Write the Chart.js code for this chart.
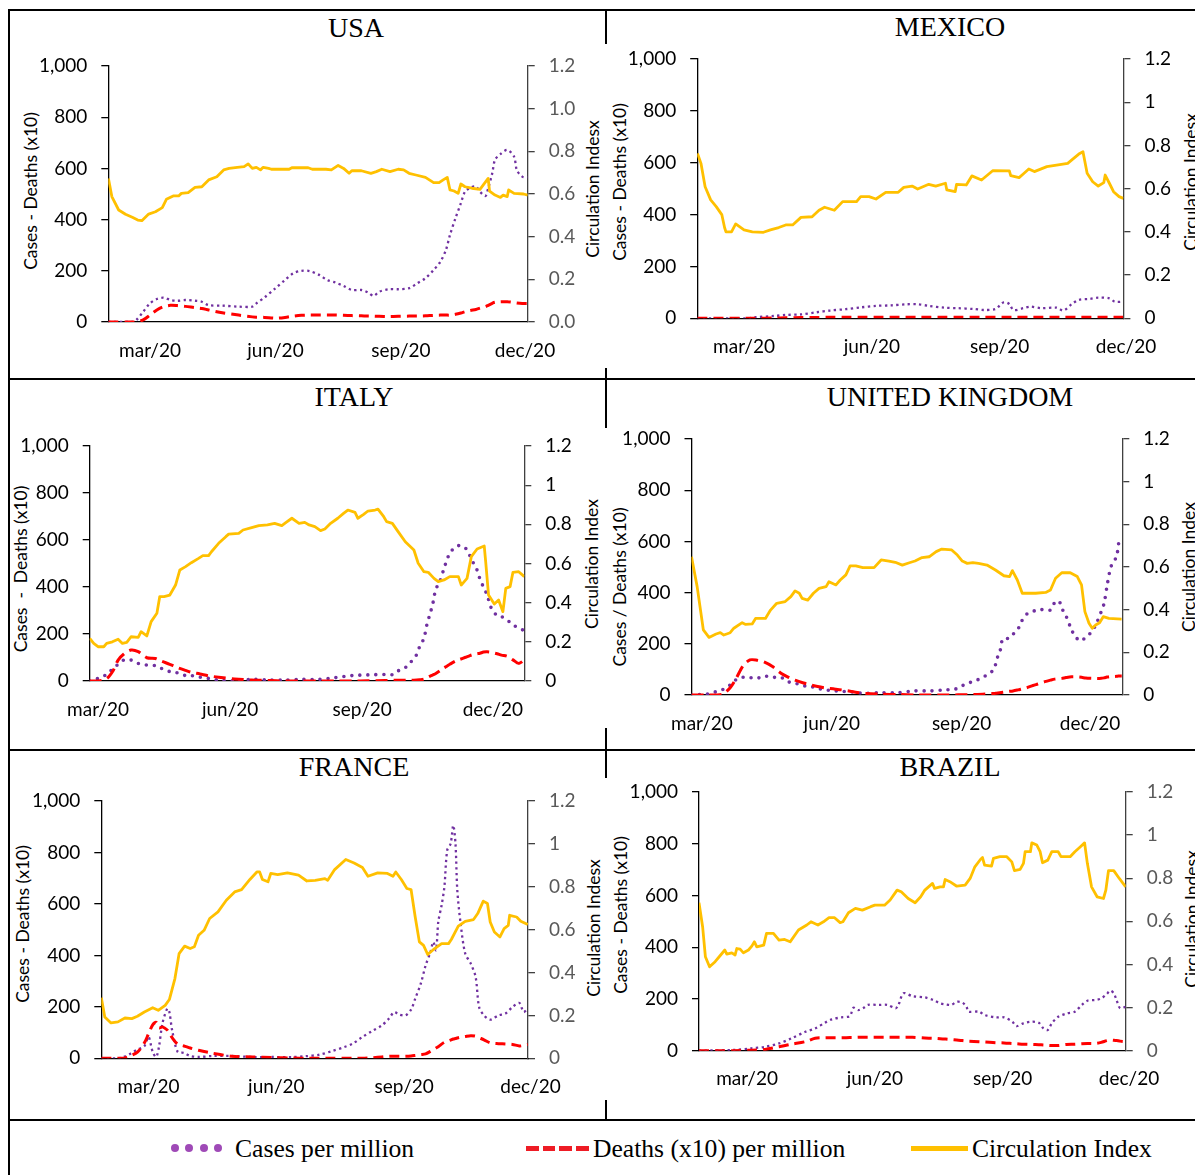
<!DOCTYPE html>
<html><head><meta charset="utf-8">
<script src="https://cdn.jsdelivr.net/npm/chart.js@4.4.1/dist/chart.umd.min.js"></script>
<style>
html,body{margin:0;padding:0;background:#fff;}
body{width:1195px;height:1175px;position:relative;overflow:hidden;}
.ln{position:absolute;background:#000;}
.ttl{position:absolute;font-family:'Liberation Serif','Times New Roman',serif;font-size:28px;color:#000;transform:translate(-50%,-50%);white-space:nowrap;line-height:1;}
.axt{position:absolute;font-family:Lato,sans-serif;font-size:17.5px;color:#000;white-space:pre;line-height:1;transform:translate(-50%,-50%) rotate(-90deg);}
canvas{position:absolute;}
.leg{position:absolute;font-family:'Liberation Serif','Times New Roman',serif;font-size:25.6px;color:#000;white-space:nowrap;line-height:1;}
.mk{position:absolute;}
</style></head><body>
<script>
// x values are days of 2020 counted from 1 January (= 0); 60 = 1 Mar, 152 = 1 Jun, 244 = 1 Sep, 335 = 1 Dec
const tickDays = [60, 152, 244, 335];
const tickLabels = ['mar/20', 'jun/20', 'sep/20', 'dec/20'];

// ---------- USA ----------
const usaCircDays = [29.5,32,37,42,47,51,54,59,64,69,72,77,81,83,88,93,98,103,109,114,118,124,129,132,135,138,141,143,147,149,162,164,176,179,189,193,198,202,206,208,215,222,226,230,236,242,246,250,255,262,268,272,275,278,280,283,286,288,291,296,302,308,309,313,317,319,322,323,327,334,337];
const usaCirc = [0.673,0.588,0.525,0.505,0.491,0.478,0.475,0.506,0.517,0.536,0.575,0.591,0.591,0.603,0.606,0.631,0.634,0.666,0.681,0.713,0.72,0.725,0.728,0.741,0.72,0.725,0.713,0.725,0.72,0.716,0.716,0.723,0.723,0.716,0.716,0.713,0.734,0.72,0.697,0.709,0.709,0.697,0.705,0.716,0.705,0.716,0.713,0.697,0.689,0.678,0.653,0.653,0.666,0.678,0.619,0.614,0.603,0.647,0.634,0.627,0.622,0.673,0.614,0.595,0.584,0.595,0.588,0.619,0.603,0.60,0.595];
const usaDays = [29.5,47,50,55,60,65,70,75,80,86,93,98,103,113,125,135,138,144,152,159,165,171,177,184,190,196,202,208,215,220,224,228,235,242,250,256,262,268,273,277,280,284,288,291,295,299,302,306,308,311,313,317,322,327,329,333,337];
const usaCases = [0,0,8,40,73,90,95,86,83,86,83,79,66,64,60,60,73,96,132,164,190,200,199,184,164,154,141,125,125,115,102,118,128,128,132,151,171,203,236,281,340,405,464,509,525,529,509,492,522,581,633,656,672,646,594,568,565];
const usaDeaths = [0,0,0,8,27,47,60,65,64,61,56,53,47,36,27,20,19,18,15,18,23,26,27,27,27,27,26,25,24,23,23,22,21,22,23,23,24,26,27,27,27,30,35,40,45,49,54,60,65,73,77,79,79,76,74,72,72];

// ---------- MEXICO ----------
const mexCircDays = [26.5,29,32,36,40,44,46,47,51,54,60,66,74,79,85,90,95,101,109,114,118,125,131,141,144,150,155,162,171,175,181,185,193,198,205,206,212,213,220,224,231,239,251,252,258,261,265,269,278,285,293,296,301,304,307,311,315,319,320,323,326,330,333];
const mexCirc = [0.763,0.717,0.609,0.548,0.517,0.48,0.42,0.40,0.40,0.437,0.409,0.40,0.398,0.409,0.42,0.432,0.432,0.467,0.47,0.50,0.514,0.50,0.54,0.54,0.563,0.563,0.552,0.583,0.583,0.606,0.612,0.598,0.62,0.612,0.625,0.594,0.586,0.62,0.617,0.659,0.64,0.683,0.682,0.66,0.651,0.668,0.691,0.679,0.702,0.709,0.717,0.733,0.76,0.771,0.671,0.632,0.612,0.628,0.663,0.625,0.586,0.563,0.555];
const mexDays = [26.5,63,68,82,90,101,112,122,133,144,155,166,177,185,193,204,214,225,233,241,247,251,254,261,266,274,285,290,296,301,309,315,323,327,333];
const mexCases = [0,0,4,9,13,15,23,30,35,42,48,50,54,54,48,41,39,36,32,36,62,55,32,39,45,39,41,30,55,71,75,80,77,64,64];
const mexDeaths = [0,0,0,1,2,3,3,4,4,4,4,4,4,4,4,4,4,4,4,4,4,4,4,4,4,4,4,4,4,4,4,4,4,4,4];

// ---------- ITALY ----------
const itaCircDays = [54.2,57,60,64,66,70,74,77,80,83,88,90,94,97,101,103,106,110,114,117,121,125,130,133,137,139,144,149,151,158,161,167,172,178,183,188,191,195,200,204,207,211,215,218,222,227,231,234,239,241,245,248,253,255,259,261,265,269,274,280,283,287,290,294,297,301,305,311,313,317,320,324,329,330,332,336,339,342,344,347,349,353,356.9];
const itaCirc = [0.218,0.192,0.175,0.175,0.192,0.20,0.213,0.192,0.197,0.226,0.223,0.252,0.23,0.303,0.346,0.431,0.431,0.439,0.49,0.567,0.584,0.604,0.626,0.64,0.64,0.66,0.703,0.737,0.75,0.754,0.771,0.783,0.793,0.797,0.805,0.793,0.81,0.831,0.805,0.81,0.797,0.788,0.768,0.776,0.805,0.831,0.856,0.873,0.861,0.831,0.851,0.868,0.873,0.878,0.839,0.814,0.805,0.763,0.711,0.669,0.601,0.558,0.555,0.524,0.507,0.516,0.533,0.533,0.49,0.524,0.635,0.674,0.689,0.609,0.439,0.393,0.414,0.354,0.473,0.482,0.555,0.558,0.533];
const itaDays = [54.2,60,66,70.6,74,78,83,88,94,100,104,110,115,121,125,131,137,144,155,167,179,190,202,214,225,237,248,260,266,270,275,278.5,282,284,287,289,291,292.5,294,295,298,301,303,305,309,312,316,319,321.5,324,326,328.5,331,334,338,341,345,349,353,356.9];
const itaCases = [0,11,28,54,71,89,89,75,68,65,54,40,35,23,23,16,11,4,1,7,4,4,7,7,14,23,26,28,28,47,61,85,113,146,182,238,281,313,352,387,423,479,515,543,572,576,565,533,501,472,434,399,366,309,278,274,260,238,227,213];
const itaDeaths = [0,0,10,45,89,115,132,125,99,96,85,71,58,45,37,30,22,16,9,4,2,0,0,0,0,0,1,2,3,3,3,3,4,5,8,14,20,24,28,31,43,56,63,71,85,92,101,108,113,116,118,123,124,122,116,110,105,90,75,89];

// ---------- UNITED KINGDOM ----------
const ukCircDays = [52.6,56.6,61,65,70,73,75.5,80,82.6,88.5,91,95.6,98,101.5,105,108.6,113,119,123,126,129,131,135,139,143,148,150,155,158,162,165,169,174,182,187,192.5,197,202,207,211,216,221,226,230,237,241,244.5,248,252,256,262,268,274,278,280,283.5,287,296.5,303.6,307,310.6,315,321,326,329,331.4,334.3,336.6,339,341.8,344.4,348.4,357.4];
const ukCirc = [0.648,0.508,0.305,0.27,0.286,0.292,0.281,0.292,0.313,0.339,0.331,0.333,0.359,0.359,0.359,0.398,0.43,0.438,0.461,0.488,0.477,0.453,0.445,0.477,0.50,0.508,0.531,0.516,0.539,0.563,0.605,0.605,0.597,0.597,0.633,0.628,0.622,0.609,0.620,0.628,0.644,0.648,0.672,0.684,0.68,0.656,0.628,0.617,0.62,0.617,0.609,0.586,0.559,0.555,0.583,0.539,0.477,0.477,0.481,0.492,0.547,0.573,0.573,0.555,0.516,0.391,0.336,0.313,0.328,0.339,0.367,0.359,0.356];
const ukDays = [52.6,64,70,75,80,84,89,94,99,104,110,116,121,126,132,136,142,147,153,159,165,170,176,187,199,211,222,233,239,244,248.5,254,259,264,267.4,268.6,271,273.3,277,280.4,284,286.3,290,294.6,298,303,307,310,313,315,318,322,325,329,332,336,339,343,345,347,349,351,354,355,357.5];
const ukCases = [0,4,13,22,39,59,69,68,65,74,69,69,52,46,36,35,26,20,17,14,13,9,7,9,9,16,16,20,22,35,46,56,69,85,104,137,165,221,221,237,258,286,315,326,335,332,332,361,367,339,309,254,225,211,228,245,273,326,358,423,482,517,540,586,618];
const ukDeaths = [0,0,0,4,28,62,113,137,136,129,111,85,70,58,47,41,33,28,24,20,15,10,6,3,2,0,0,0,0,1,1,2,3,5,6,7,9,11,14,16,20,23,28,37,43,52,58,62,64,65,68,71,71,69,66,65,65,65,67,70,72,72,73,74,74];

// ---------- FRANCE ----------
const fraCircDays = [26,28.5,33,38,43,48,52,57,63,67,72,75,79,82,86,90,93,96,100,104,110,116,122,127,133,138,140,142,146,148,153,160,168,174,180,187,189,194,202,208,214,218,225,232,236,238,242,246,249,252,255,258,261,266,271,276,278,283,288,294,297,301,304,306,309,313,316,319,320,325,328,333];
const fraCirc = [0.283,0.193,0.165,0.17,0.188,0.185,0.196,0.216,0.236,0.224,0.247,0.274,0.372,0.488,0.523,0.512,0.52,0.574,0.597,0.652,0.683,0.737,0.776,0.787,0.834,0.869,0.869,0.834,0.823,0.862,0.857,0.865,0.854,0.827,0.83,0.838,0.83,0.88,0.927,0.911,0.89,0.849,0.865,0.862,0.849,0.869,0.834,0.792,0.787,0.659,0.543,0.527,0.484,0.512,0.535,0.535,0.554,0.616,0.639,0.647,0.675,0.733,0.722,0.636,0.589,0.566,0.605,0.62,0.667,0.659,0.639,0.624];
const fraDays = [26,38,42,47,52,57,60,63,65.5,67.5,70,73.5,75,77,81,85.5,90,96,106,120,135,149,164,173,183,192,201,207,214,221,228,233,237,240,245,249,252,256,259.5,263,265,267,268.6,271,273,275,277.5,279.4,281,282.3,284.7,288,292,295.5,298,301.5,306,312,317,322,327,330,333];
const fraCases = [0,0,5,18,34,47,83,25,5,44,135,193,180,109,25,21,9,5,9,9,5,5,5,8,14,28,44,57,83,106,128,154,180,171,167,189,232,290,361,413,452,420,530,595,666,808,834,905,834,653,523,407,368,316,199,167,150,167,174,199,215,180,193];
const fraDeaths = [0,0,0,10,24,60,95,130,140,118,122,110,98,80,55,48,40,31,20,8,5,3,1,0,0,0,0,0,0,2,5,8,8,8,8,9,11,14,17,27,33,40,45,55,62,66,71,75,77,79,82,85,88,86,80,72,60,57,56,54,48,50,54];

// ---------- BRAZIL ----------
const braCircDays = [25.4,28,30,33,37,41,44,45.4,49,51.4,52.6,55,57.4,61,63.4,65.3,67,72,74,79,83,87,91,97,103,106,111,115,119,123,127,129,133,138,143,149,152,159,163,168,171,176,181,185,188,193.5,195,199,201.4,202.6,206,211,217,220.6,224,228,229.5,231,236,237.4,242,247,250.6,252.5,256.6,259,260.2,264,265,268.6,271,272.7,276.5,279.4,284,286,292.6,296,300,303,305,308,312,316.6,318.3,320.2,324,328,332.6];
const braCirc = [0.686,0.575,0.436,0.389,0.413,0.444,0.467,0.448,0.454,0.444,0.474,0.471,0.454,0.467,0.485,0.505,0.482,0.49,0.544,0.544,0.513,0.516,0.505,0.56,0.583,0.598,0.583,0.598,0.617,0.617,0.594,0.598,0.64,0.66,0.652,0.668,0.675,0.675,0.699,0.745,0.737,0.706,0.686,0.714,0.745,0.776,0.753,0.76,0.76,0.794,0.784,0.763,0.768,0.799,0.853,0.887,0.896,0.861,0.856,0.892,0.90,0.90,0.876,0.835,0.841,0.869,0.923,0.923,0.964,0.954,0.923,0.872,0.884,0.923,0.923,0.90,0.90,0.923,0.946,0.964,0.869,0.76,0.714,0.706,0.745,0.835,0.835,0.799,0.76];
const braDays = [25.4,50,63,73,83,92,102,109,116,121,128,134,136.6,140,144,147,155,161,167,169,172.6,179,188,194,199,203,207,211,215,218,219.4,227,231,239,245,251,254,259,265,270,273.4,276.5,279.4,284,290,296,301,305,311,315,319,321.4,324,326,328.6,332.6];
const braCases = [0,3,9,15,28,48,73,86,108,121,129,134,166,157,166,177,177,177,164,177,222,211,206,196,183,179,177,189,186,170,151,151,138,129,129,112,95,106,112,108,86,80,106,131,144,151,177,193,196,202,219,232,222,196,164,170];
const braDeaths = [0,0,2,5,15,25,35,48,50,50,50,51,51,52,52,52,52,52,52,52,52,52,49,48,46,45,43,41,39,37,37,35,34,31,30,28,27,25,24,23,22,21,20,20,24,25,27,28,28,32,39,41,40,39,37,35];

const seriesNames = ['Cases per million', 'Deaths (x10) per million', 'Circulation Index'];

// ---------- layout / style (positions in page pixels) ----------
const panels = [
  {title:'USA', tpos:[356,28], circDays:usaCircDays, circ:usaCirc, days:usaDays, cases:usaCases, deaths:usaDeaths,
   canvas:[10,38,596,332], plot:[108.3,66,527.7,322], xr:[29.4,337], rcol:'#595959', fixed:true, big:false,
   lt:'Cases - Deaths (x10)', lpos:[31,190.5], rt:'Circulation Indesx', rpos:[593,189]},
  {title:'MEXICO', tpos:[950,27], circDays:mexCircDays, circ:mexCirc, days:mexDays, cases:mexCases, deaths:mexDeaths,
   canvas:[607,31,588,339], plot:[697.2,59,1123.4,318.3], xr:[26.3,333.1], rcol:'#000', fixed:false, big:false,
   lt:'Cases - Deaths (x10)', lpos:[620,181.5], rt:'Circulation Indesx', rpos:[1191,182]},
  {title:'ITALY', tpos:[354,397], circDays:itaCircDays, circ:itaCirc, days:itaDays, cases:itaCases, deaths:itaDeaths,
   canvas:[10,418,596,330], plot:[89.7,446,524.3,681], xr:[54.2,356.9], rcol:'#000', fixed:false, big:true,
   lt:'Cases  -  Deaths (x10)', lpos:[21,569], rt:'Circulation Index', rpos:[591.5,564]},
  {title:'UNITED KINGDOM', tpos:[950,397], circDays:ukCircDays, circ:ukCirc, days:ukDays, cases:ukCases, deaths:ukDeaths,
   canvas:[607,411,588,337], plot:[691.5,439,1122.3,695], xr:[52.6,357.9], rcol:'#000', fixed:false, big:true,
   lt:'Cases / Deaths (x10)', lpos:[619.5,587], rt:'Circulation Index', rpos:[1189,566.5]},
  {title:'FRANCE', tpos:[354,767], circDays:fraCircDays, circ:fraCirc, days:fraDays, cases:fraCases, deaths:fraDeaths,
   canvas:[10,772.7,596,344.3], plot:[101.3,800.7,528,1058], xr:[26,333.2], rcol:'#595959', fixed:false, big:false,
   lt:'Cases - Deaths (x10)', lpos:[23,923.5], rt:'Circulation Indesx', rpos:[594,928]},
  {title:'BRAZIL', tpos:[950,767], circDays:braCircDays, circ:braCirc, days:braDays, cases:braCases, deaths:braDeaths,
   canvas:[607,764,588,353], plot:[699,792,1125.7,1050.7], xr:[25.4,332.6], rcol:'#595959', fixed:false, big:false,
   lt:'Cases - Deaths (x10)', lpos:[621,915], rt:'Circulation Indesx', rpos:[1192,918.5]}
];

function addDiv(cls, css, text){
  const d = document.createElement('div');
  d.className = cls;
  Object.assign(d.style, css);
  if (text !== undefined) d.textContent = text;
  document.body.appendChild(d);
  return d;
}

// frame lines
[[8,8.5,1187,2],[8,378,1187,2],[8,749,1187,2],[8,1119,1187,2],[8,8.5,2,1167],
 [605,8.5,2,35],[605,368,2,11],[605,379,2,49],[605,728,2,22],[605,750,2,28],[605,1100,2,20]]
 .forEach(([x,y,w,h]) => addDiv('ln', {left:x+'px', top:y+'px', width:w+'px', height:h+'px'}));

Chart.defaults.font.family = 'Lato, sans-serif';
const tickFont = {family:'Lato, sans-serif', size:19};

function build(p){
  addDiv('ttl', {left:p.tpos[0]+'px', top:p.tpos[1]+'px'}, p.title);
  addDiv('axt', {left:p.lpos[0]+'px', top:p.lpos[1]+'px'}, p.lt);
  addDiv('axt', {left:p.rpos[0]+'px', top:p.rpos[1]+'px'}, p.rt);

  const [cx,cy,cw,ch] = p.canvas;
  const [pl,pt,pr,pb] = p.plot;
  const cv = document.createElement('canvas');
  cv.width = Math.round(cw); cv.height = Math.round(ch);
  Object.assign(cv.style, {left:cx+'px', top:cy+'px', width:Math.round(cw)+'px', height:Math.round(ch)+'px'});
  document.body.appendChild(cv);
  const leftW = pl - cx, rightW = cx + Math.round(cw) - pr, botH = cy + Math.round(ch) - pb, topPad = pt - cy;

  const pts = (xs, ys) => xs.map((x,i) => ({x:x, y:ys[i]}));
  const caseDash = p.big ? [0, 8] : [2.3, 3.4];
  new Chart(cv, {
    type:'line',
    data:{datasets:[
      {label:seriesNames[2], data:pts(p.circDays,p.circ), yAxisID:'y1', borderColor:'#FFC000', borderWidth:2.8,
       pointRadius:0, tension:0, fill:false, borderJoinStyle:'round'},
      {label:seriesNames[1], data:pts(p.days,p.deaths), yAxisID:'y', borderColor:'#FF0000', borderWidth:3,
       borderDash: p.big ? [12,6] : [10,6], pointRadius:0, tension:0.3, fill:false},
      {label:seriesNames[0], data:pts(p.days,p.cases), yAxisID:'y', borderColor:'#7030A0', borderWidth: p.big ? 3.6 : 2.3,
       borderDash:caseDash, borderCapStyle: p.big ? 'round' : 'butt', pointRadius:0, tension:0.3, fill:false}
    ]},
    options:{
      responsive:false, animation:false, events:[],
      layout:{padding:{top:topPad, left:0, right:0, bottom:0}},
      plugins:{legend:{display:false}, tooltip:{enabled:false}, title:{display:false}},
      scales:{
        x:{type:'linear', position:'bottom', min:p.xr[0], max:p.xr[1],
           afterBuildTicks: s => { s.ticks = tickDays.map(v => ({value:v})); },
           afterFit: s => { s.height = botH; },
           grid:{display:false, drawTicks:false},
           border:{display:true, color:'#000', width:1.3},
           ticks:{autoSkip:false, maxRotation:0, minRotation:0, padding:17, color:'#000', font:tickFont,
                  callback:(v,i) => tickLabels[i]}},
        y:{type:'linear', position:'left', min:0, max:1000,
           afterFit: s => { s.width = leftW; },
           grid:{drawOnChartArea:false, drawTicks:true, tickLength:7, color:'#000', lineWidth:1.3},
           border:{display:true, color:'#000', width:1.3},
           ticks:{stepSize:200, padding:14, color:'#000', font:tickFont,
                  callback:v => Number(v).toLocaleString('en-US')}},
        y1:{type:'linear', position:'right', min:0, max:1.2,
           afterFit: s => { s.width = rightW; },
           grid:{drawOnChartArea:false, drawTicks:true, tickLength:7, color:'#404040', lineWidth:1.3},
           border:{display:true, color:'#404040', width:1.3},
           ticks:{stepSize:0.2, padding:14, color:p.rcol, font:tickFont,
                  callback:v => p.fixed ? Number(v).toFixed(1) : String(Number(Number(v).toFixed(1)))}}
      }
    }
  });
}
panels.forEach(build);

// legend
for (let i = 0; i < 4; i++) addDiv('mk', {left:(171 + i*14.3)+'px', top:'1144px', width:'8px', height:'8px', borderRadius:'50%', background:'#9F4AB7'});
for (let i = 0; i < 4; i++) addDiv('mk', {left:(526 + i*16.7)+'px', top:'1145.5px', width:'12.5px', height:'5px', background:'#EE1C25'});
addDiv('mk', {left:'911px', top:'1145.5px', width:'57px', height:'5px', background:'#FFC000'});
addDiv('leg', {left:'235px', top:'1135.5px'}, seriesNames[0]);
addDiv('leg', {left:'593px', top:'1135.5px'}, seriesNames[1]);
addDiv('leg', {left:'972px', top:'1135.5px'}, seriesNames[2]);
</script>
</body></html>
